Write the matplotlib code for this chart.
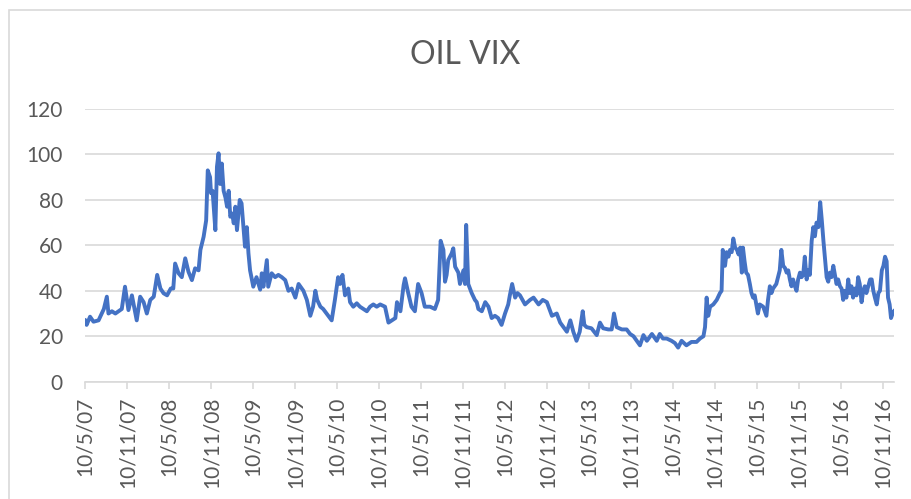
#!/usr/bin/env python3
# OIL VIX line chart (Excel style)

import matplotlib
matplotlib.use("Agg")
import matplotlib.pyplot as plt
from matplotlib.patches import Rectangle
import pandas as pd

title = "OIL VIX"

dates = [
    # 2007
    "2007-05-10", "2007-05-17", "2007-06-01", "2007-06-16", "2007-07-08", "2007-07-31",
    "2007-08-13", "2007-08-20", "2007-09-04", "2007-09-19", "2007-10-03", "2007-10-17",
    "2007-10-31", "2007-11-15", "2007-11-30", "2007-12-21",
    # 2008
    "2008-01-05", "2008-01-20", "2008-02-03", "2008-02-18", "2008-03-04", "2008-03-19",
    "2008-04-02", "2008-04-16", "2008-05-01", "2008-05-17", "2008-05-28", "2008-06-05",
    "2008-06-20", "2008-07-04", "2008-07-19", "2008-08-02", "2008-08-17", "2008-08-31",
    "2008-09-15", "2008-09-23", "2008-10-07", "2008-10-18", "2008-10-25", "2008-11-04",
    "2008-11-08", "2008-11-15", "2008-11-27", "2008-12-04", "2008-12-11", "2008-12-18",
    "2008-12-25",
    # 2009
    "2009-01-02", "2009-01-10", "2009-01-17", "2009-01-24", "2009-01-31", "2009-02-08",
    "2009-02-15", "2009-02-22", "2009-03-01", "2009-03-13", "2009-03-21", "2009-03-28",
    "2009-04-05", "2009-04-13", "2009-04-20", "2009-04-27", "2009-05-11", "2009-05-25",
    "2009-06-10", "2009-06-17", "2009-06-24", "2009-07-09", "2009-07-15", "2009-07-30",
    "2009-08-14", "2009-08-28", "2009-09-12", "2009-09-27", "2009-10-11", "2009-10-25",
    "2009-11-10", "2009-11-24", "2009-12-15", "2009-12-30",
    # 2010
    "2010-01-14", "2010-01-26", "2010-02-05", "2010-02-13", "2010-02-27", "2010-03-11",
    "2010-03-26", "2010-04-17", "2010-05-01", "2010-05-15", "2010-05-23", "2010-06-03",
    "2010-06-14", "2010-06-28", "2010-07-06", "2010-07-20", "2010-08-04", "2010-08-18",
    "2010-09-02", "2010-09-17", "2010-10-01", "2010-10-15", "2010-10-30", "2010-11-14",
    "2010-12-05", "2010-12-20",
    # 2011
    "2011-01-04", "2011-01-19", "2011-01-26", "2011-02-10", "2011-02-24", "2011-03-02",
    "2011-03-16", "2011-03-30", "2011-04-14", "2011-04-28", "2011-05-13", "2011-05-27",
    "2011-06-19", "2011-07-10", "2011-07-24", "2011-08-04", "2011-08-16", "2011-08-23",
    "2011-08-30", "2011-09-06", "2011-09-21", "2011-09-28", "2011-10-06", "2011-10-20",
    "2011-10-27", "2011-11-11", "2011-11-18", "2011-11-23", "2011-12-02", "2011-12-17",
    "2011-12-31",
    # 2012
    "2012-01-08", "2012-01-15", "2012-01-30", "2012-02-14", "2012-02-28", "2012-03-13",
    "2012-03-27", "2012-04-10", "2012-04-25", "2012-05-10", "2012-05-24", "2012-05-31",
    "2012-06-10", "2012-06-23", "2012-07-03", "2012-07-14", "2012-08-05", "2012-08-27",
    "2012-09-11", "2012-10-03", "2012-10-21", "2012-11-08", "2012-11-30", "2012-12-21",
    # 2013
    "2013-01-05", "2013-01-27", "2013-02-03", "2013-02-18", "2013-03-03", "2013-03-17",
    "2013-03-31", "2013-04-13", "2013-04-20", "2013-04-30", "2013-05-21", "2013-06-13",
    "2013-06-27", "2013-07-11", "2013-08-02", "2013-08-17", "2013-08-27", "2013-09-08",
    "2013-09-30", "2013-10-21", "2013-11-05", "2013-11-20", "2013-12-04", "2013-12-18",
    # 2014
    "2014-01-02", "2014-01-17", "2014-02-08", "2014-03-01", "2014-03-14", "2014-03-28",
    "2014-04-13", "2014-05-04", "2014-05-19", "2014-06-02", "2014-06-17", "2014-07-08",
    "2014-07-30", "2014-08-21", "2014-09-05", "2014-09-20", "2014-09-27", "2014-10-04",
    "2014-10-11", "2014-10-19", "2014-11-02", "2014-11-17", "2014-12-01", "2014-12-08",
    "2014-12-13", "2014-12-23", "2014-12-30",
    # 2015
    "2015-01-07", "2015-01-14", "2015-01-21", "2015-01-28", "2015-02-05", "2015-02-13",
    "2015-02-20", "2015-02-27", "2015-03-06", "2015-03-11", "2015-03-18", "2015-03-25",
    "2015-04-02", "2015-04-10", "2015-04-17", "2015-04-24", "2015-05-01", "2015-05-08",
    "2015-05-15", "2015-05-23", "2015-06-07", "2015-06-14", "2015-06-21", "2015-06-28",
    "2015-07-06", "2015-07-13", "2015-07-20", "2015-08-03", "2015-08-18", "2015-08-25",
    "2015-09-02", "2015-09-10", "2015-09-17", "2015-09-24", "2015-10-01", "2015-10-08",
    "2015-10-15", "2015-10-23", "2015-10-30", "2015-11-06", "2015-11-14", "2015-11-21",
    "2015-11-28", "2015-12-05", "2015-12-13", "2015-12-20", "2015-12-27",
    # 2016
    "2016-01-04", "2016-01-11", "2016-01-18", "2016-01-25", "2016-02-02", "2016-02-10",
    "2016-02-17", "2016-02-24", "2016-03-02", "2016-03-09", "2016-03-16", "2016-03-23",
    "2016-03-30", "2016-04-07", "2016-04-14", "2016-04-21", "2016-04-28", "2016-05-06",
    "2016-05-13", "2016-05-20", "2016-05-27", "2016-06-03", "2016-06-11", "2016-06-18",
    "2016-06-25", "2016-07-02", "2016-07-10", "2016-07-17", "2016-07-24", "2016-07-31",
    "2016-08-08", "2016-08-15", "2016-08-22", "2016-08-29", "2016-09-06", "2016-09-14",
    "2016-09-21", "2016-09-28", "2016-10-05", "2016-10-13", "2016-10-20", "2016-10-27",
    "2016-11-04", "2016-11-11", "2016-11-18", "2016-11-25", "2016-12-01", "2016-12-08",
    "2016-12-14", "2016-12-21", "2016-12-27",
]

values = [
    # 2007
    27, 25, 28.6, 26.4, 27, 32, 37.4, 30, 31, 30, 31, 32, 41.8, 31.5, 38, 27,
    # 2008
    37.4, 35, 30, 36, 37.4, 47, 41, 38.9, 38, 41, 41, 52, 47.7, 46, 54.3, 48.4,
    44.7, 49.9, 49, 58, 63.8, 71, 93, 90, 83, 84, 66.7, 94.6, 100.5, 87, 96,
    # 2009
    84, 81, 77, 84, 72.6, 74, 69.7, 77, 66.7, 80, 78.5, 69.7, 59.4, 68, 56.5, 49,
    41.8, 46, 40.5, 47.7, 41.8, 53.5, 41.8, 47.7, 46, 47, 46, 44.7, 40, 41, 37, 43,
    40, 36,
    # 2010
    29, 33, 40, 36, 33, 32, 30, 27, 36, 46, 43, 47, 38, 41, 35, 33, 34.5, 33, 32, 31,
    33, 34, 33, 34, 33, 26,
    # 2011
    27, 28, 35, 31, 42.5, 45.5, 39, 33, 31, 43, 39, 33, 33, 32, 36, 62, 58, 44, 47,
    53.5, 56.5, 58.7, 50.6, 48, 43, 49, 43, 69, 43, 39, 36,
    # 2012
    35, 32, 31, 35, 33, 28, 29, 28, 25, 30, 34, 38, 43, 37, 39, 38, 34, 36, 37, 34,
    36, 35, 29, 30,
    # 2013
    26, 23, 22, 27, 22, 18, 22, 31, 25, 24, 23.5, 20.5, 26, 23.5, 23, 23, 30, 24, 23,
    23, 21, 20, 18, 16,
    # 2014
    20.5, 18, 21, 18, 21, 19, 19, 18, 17, 15, 18, 16, 17.5, 17.5, 19, 20, 24, 37, 29,
    33, 34, 36, 39, 40, 58, 51, 57,
    # 2015
    55, 58, 57, 63, 59, 58, 56, 59, 48, 59, 53, 48, 47, 43, 39, 37, 38, 34, 30, 34,
    33, 31, 29, 36, 42, 39, 41, 43, 49, 58, 51, 50, 48, 49, 45, 42, 45, 42, 40, 45,
    48, 46, 47, 55, 45, 49, 47,
    # 2016
    62, 68, 64, 70, 68, 79, 71, 62, 54, 46, 44, 48, 46, 51, 47, 43, 45, 42, 41, 36,
    40, 37, 45, 39, 42, 37, 41, 38, 46, 43, 35, 40, 42, 39, 42, 45, 45, 40, 37, 34,
    39, 40, 49, 51, 55, 53, 37, 34, 28, 30, 31,
]

tick_labels = ["10/5/07", "10/11/07", "10/5/08", "10/11/08", "10/5/09", "10/11/09",
               "10/5/10", "10/11/10", "10/5/11", "10/11/11", "10/5/12", "10/11/12",
               "10/5/13", "10/11/13", "10/5/14", "10/11/14", "10/5/15", "10/11/15",
               "10/5/16", "10/11/16"]
y_ticks = [0, 20, 40, 60, 80, 100, 120]

assert len(dates) == len(values)

plt.rcParams['font.family'] = ['Lato', 'DejaVu Sans']
grey = '#595959'
light = '#D9D9D9'

W, H = 911, 499
fig = plt.figure(figsize=(W / 100, H / 100), dpi=100)
ax = fig.add_axes([85 / W, 1 - 381.7 / H, (894 - 85) / W, (381.7 - 109) / H])

x = pd.to_datetime(dates)
ax.plot(x, values, color='#4472C4', lw=2.8, solid_joinstyle='round')

ax.set_ylim(y_ticks[0], y_ticks[-1])
ax.set_yticks(y_ticks)
ax.set_xlim(x[0], x[-1])
ax.set_xticks(pd.to_datetime(tick_labels, format='%d/%m/%y'))
ax.set_xticklabels(tick_labels, rotation=90, va='top', ha='center')

ax.yaxis.grid(True, color=light, lw=1.2)
ax.set_axisbelow(True)
for s in ['top', 'right', 'left']:
    ax.spines[s].set_visible(False)
ax.spines['bottom'].set_color(light)
ax.spines['bottom'].set_linewidth(1.2)

ax.tick_params(axis='y', length=0, pad=16, labelsize=15, labelcolor=grey)
ax.tick_params(axis='x', length=5, width=1.2, color=light, pad=6,
               labelsize=15, labelcolor=grey)

fig.text(465 / W, 1 - 55 / H, title, ha='center', va='center',
         fontsize=23, color=grey)

# chart area border (right and bottom fall outside the picture)
fig.patches.append(Rectangle((8.7 / W, -0.1), 1.0, 1.1 - 10 / H,
                             transform=fig.transFigure, fill=False,
                             ec=light, lw=1.2))

fig.savefig('out.png', dpi=100)
